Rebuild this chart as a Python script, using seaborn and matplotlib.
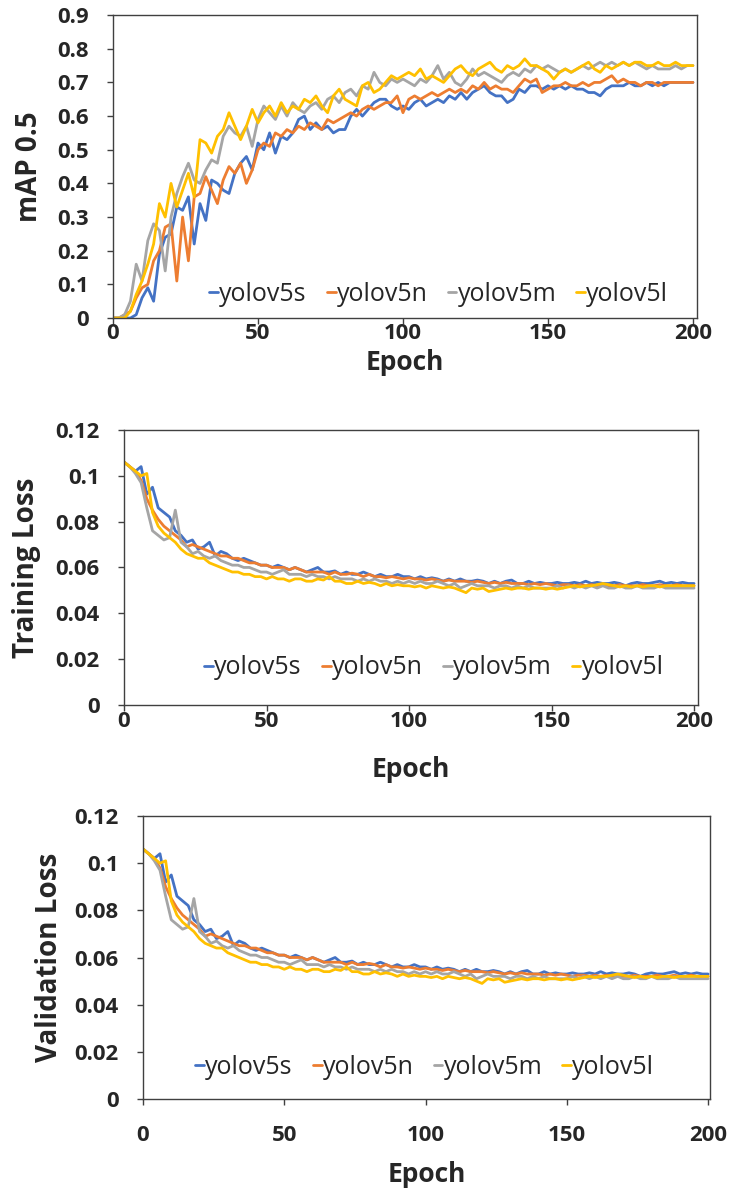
import numpy as np
import pandas as pd
import matplotlib
matplotlib.use('Agg')
import matplotlib.pyplot as plt
import seaborn as sns
from matplotlib.ticker import FuncFormatter

# epochs sampled every 2 epochs
epochs = list(range(0, 201, 2))
models = ['yolov5s', 'yolov5n', 'yolov5m', 'yolov5l']
colors = ['#4472C4', '#ED7D31', '#A5A5A5', '#FFC000']

# mAP 0.5
map_s = [0.00, 0.00, 0.00, 0.00, 0.01, 0.06, 0.09, 0.05, 0.19, 0.24,
         0.25, 0.33, 0.32, 0.36, 0.22, 0.34, 0.29, 0.41, 0.40, 0.38,
         0.37, 0.43, 0.46, 0.48, 0.44, 0.52, 0.50, 0.55, 0.49, 0.54,
         0.53, 0.55, 0.59, 0.60, 0.56, 0.58, 0.56, 0.57, 0.55, 0.56,
         0.56, 0.60, 0.62, 0.60, 0.62, 0.64, 0.65, 0.65, 0.63, 0.62,
         0.63, 0.62, 0.64, 0.65, 0.63, 0.64, 0.65, 0.64, 0.66, 0.65,
         0.67, 0.65, 0.67, 0.68, 0.69, 0.67, 0.66, 0.66, 0.64, 0.65,
         0.68, 0.67, 0.69, 0.69, 0.68, 0.69, 0.68, 0.69, 0.68, 0.69,
         0.68, 0.68, 0.67, 0.67, 0.66, 0.68, 0.69, 0.69, 0.69, 0.70,
         0.69, 0.69, 0.70, 0.69, 0.70, 0.69, 0.70, 0.70, 0.70, 0.70,
         0.70]
map_n = [0.00, 0.00, 0.01, 0.02, 0.06, 0.09, 0.10, 0.17, 0.20, 0.27,
         0.28, 0.11, 0.30, 0.17, 0.36, 0.37, 0.42, 0.38, 0.34, 0.41,
         0.45, 0.43, 0.46, 0.40, 0.44, 0.50, 0.52, 0.51, 0.55, 0.54,
         0.56, 0.55, 0.57, 0.56, 0.58, 0.57, 0.56, 0.59, 0.58, 0.59,
         0.60, 0.61, 0.60, 0.62, 0.63, 0.62, 0.63, 0.64, 0.64, 0.66,
         0.61, 0.65, 0.66, 0.65, 0.66, 0.67, 0.66, 0.67, 0.68, 0.67,
         0.68, 0.67, 0.69, 0.68, 0.70, 0.68, 0.69, 0.68, 0.68, 0.67,
         0.69, 0.71, 0.70, 0.71, 0.67, 0.68, 0.69, 0.69, 0.70, 0.69,
         0.69, 0.70, 0.69, 0.70, 0.70, 0.71, 0.72, 0.70, 0.71, 0.70,
         0.70, 0.69, 0.70, 0.70, 0.69, 0.70, 0.70, 0.70, 0.70, 0.70,
         0.70]
map_m = [0.00, 0.00, 0.01, 0.05, 0.16, 0.11, 0.23, 0.28, 0.26, 0.14,
         0.30, 0.37, 0.42, 0.46, 0.41, 0.40, 0.44, 0.47, 0.46, 0.54,
         0.57, 0.55, 0.54, 0.57, 0.51, 0.59, 0.63, 0.61, 0.59, 0.63,
         0.60, 0.64, 0.62, 0.61, 0.63, 0.64, 0.62, 0.65, 0.66, 0.64,
         0.67, 0.68, 0.66, 0.69, 0.68, 0.73, 0.70, 0.69, 0.71, 0.70,
         0.71, 0.70, 0.69, 0.71, 0.70, 0.72, 0.75, 0.71, 0.73, 0.70,
         0.69, 0.71, 0.74, 0.72, 0.73, 0.72, 0.71, 0.70, 0.72, 0.73,
         0.72, 0.74, 0.73, 0.75, 0.74, 0.75, 0.74, 0.73, 0.74, 0.73,
         0.74, 0.75, 0.74, 0.75, 0.76, 0.75, 0.76, 0.75, 0.76, 0.75,
         0.76, 0.75, 0.74, 0.75, 0.74, 0.74, 0.74, 0.75, 0.74, 0.75,
         0.75]
map_l = [0.00, 0.00, 0.00, 0.02, 0.07, 0.11, 0.16, 0.22, 0.34, 0.30,
         0.40, 0.33, 0.38, 0.43, 0.36, 0.53, 0.52, 0.49, 0.54, 0.56,
         0.61, 0.57, 0.53, 0.57, 0.62, 0.58, 0.61, 0.63, 0.60, 0.64,
         0.61, 0.63, 0.62, 0.65, 0.64, 0.66, 0.63, 0.61, 0.66, 0.68,
         0.65, 0.64, 0.63, 0.69, 0.70, 0.67, 0.68, 0.70, 0.72, 0.71,
         0.72, 0.73, 0.72, 0.74, 0.71, 0.72, 0.71, 0.70, 0.72, 0.74,
         0.75, 0.73, 0.72, 0.74, 0.75, 0.76, 0.74, 0.73, 0.75, 0.74,
         0.75, 0.77, 0.75, 0.75, 0.74, 0.73, 0.71, 0.73, 0.74, 0.73,
         0.74, 0.75, 0.76, 0.74, 0.73, 0.75, 0.74, 0.75, 0.76, 0.75,
         0.76, 0.76, 0.75, 0.75, 0.76, 0.75, 0.75, 0.76, 0.75, 0.75,
         0.75]

# training loss
loss_s = [0.106, 0.104, 0.102, 0.104, 0.092, 0.095, 0.086, 0.084, 0.082, 0.076,
          0.074, 0.071, 0.072, 0.068, 0.069, 0.071, 0.065, 0.067, 0.066, 0.064,
          0.063, 0.064, 0.063, 0.062, 0.061, 0.061, 0.060, 0.061, 0.060, 0.059,
          0.060, 0.059, 0.058, 0.059, 0.060, 0.058, 0.058, 0.0585, 0.057, 0.058,
          0.057, 0.057, 0.058, 0.057, 0.056, 0.057, 0.056, 0.056, 0.057, 0.056,
          0.056, 0.055, 0.056, 0.055, 0.0555, 0.055, 0.054, 0.055, 0.054, 0.055,
          0.054, 0.054, 0.0545, 0.054, 0.053, 0.054, 0.053, 0.054, 0.0545, 0.053,
          0.053, 0.054, 0.053, 0.0535, 0.053, 0.053, 0.0535, 0.053, 0.053, 0.0535,
          0.053, 0.054, 0.053, 0.0535, 0.053, 0.053, 0.0535, 0.053, 0.052, 0.053,
          0.0535, 0.053, 0.053, 0.0535, 0.054, 0.053, 0.0535, 0.053, 0.0535, 0.053,
          0.053]
loss_n = [0.106, 0.104, 0.102, 0.098, 0.090, 0.085, 0.081, 0.078, 0.076, 0.074,
          0.072, 0.069, 0.070, 0.069, 0.068, 0.067, 0.066, 0.065, 0.065, 0.064,
          0.064, 0.063, 0.062, 0.062, 0.061, 0.061, 0.060, 0.060, 0.060, 0.059,
          0.060, 0.059, 0.058, 0.058, 0.058, 0.058, 0.057, 0.058, 0.057, 0.057,
          0.0575, 0.057, 0.056, 0.057, 0.056, 0.056, 0.0555, 0.056, 0.0555, 0.055,
          0.0555, 0.055, 0.055, 0.0545, 0.055, 0.0545, 0.054, 0.0545, 0.054, 0.054,
          0.054, 0.0535, 0.054, 0.0535, 0.053, 0.0535, 0.053, 0.0535, 0.053, 0.053,
          0.053, 0.0525, 0.053, 0.0525, 0.053, 0.0525, 0.052, 0.0525, 0.0525, 0.052,
          0.0525, 0.052, 0.0525, 0.052, 0.0525, 0.052, 0.052, 0.0525, 0.052, 0.052,
          0.052, 0.0525, 0.052, 0.052, 0.0525, 0.052, 0.052, 0.0525, 0.052, 0.052,
          0.052]
loss_m = [0.106, 0.104, 0.101, 0.097, 0.086, 0.076, 0.074, 0.072, 0.073, 0.085,
          0.071, 0.069, 0.066, 0.067, 0.065, 0.064, 0.065, 0.063, 0.062, 0.061,
          0.061, 0.060, 0.060, 0.059, 0.058, 0.058, 0.057, 0.058, 0.059, 0.057,
          0.057, 0.057, 0.056, 0.057, 0.056, 0.056, 0.055, 0.056, 0.055, 0.055,
          0.055, 0.054, 0.055, 0.054, 0.055, 0.054, 0.054, 0.053, 0.054, 0.053,
          0.054, 0.053, 0.054, 0.053, 0.053, 0.054, 0.053, 0.052, 0.053, 0.051,
          0.052, 0.053, 0.052, 0.052, 0.052, 0.051, 0.052, 0.052, 0.051, 0.052,
          0.051, 0.052, 0.051, 0.051, 0.051, 0.051, 0.052, 0.051, 0.052, 0.051,
          0.052, 0.051, 0.052, 0.051, 0.052, 0.051, 0.051, 0.052, 0.051, 0.051,
          0.052, 0.051, 0.051, 0.051, 0.052, 0.051, 0.051, 0.051, 0.051, 0.051,
          0.051]
loss_l = [0.106, 0.104, 0.102, 0.100, 0.101, 0.084, 0.078, 0.075, 0.073, 0.071,
          0.068, 0.066, 0.065, 0.064, 0.064, 0.062, 0.061, 0.060, 0.059, 0.058,
          0.058, 0.057, 0.057, 0.056, 0.056, 0.055, 0.056, 0.055, 0.055, 0.054,
          0.055, 0.055, 0.054, 0.054, 0.055, 0.0545, 0.056, 0.054, 0.054, 0.053,
          0.053, 0.054, 0.053, 0.0535, 0.053, 0.052, 0.053, 0.052, 0.0525, 0.052,
          0.052, 0.0515, 0.052, 0.051, 0.052, 0.0515, 0.051, 0.0515, 0.051, 0.050,
          0.049, 0.051, 0.0505, 0.051, 0.0495, 0.050, 0.0505, 0.051, 0.0505, 0.051,
          0.051, 0.0505, 0.051, 0.051, 0.0505, 0.051, 0.0505, 0.051, 0.0515, 0.052,
          0.0515, 0.052, 0.052, 0.0525, 0.053, 0.0525, 0.052, 0.0515, 0.052, 0.0515,
          0.052, 0.0515, 0.052, 0.052, 0.0515, 0.052, 0.052, 0.052, 0.052, 0.052,
          0.052]

# validation loss curves are the same as the training ones in the figure
val_s, val_n, val_m, val_l = loss_s, loss_n, loss_m, loss_l


def long_df(series):
    frames = []
    for name, vals in zip(models, series):
        frames.append(pd.DataFrame({'Epoch': epochs, 'value': vals, 'model': name}))
    return pd.concat(frames, ignore_index=True)


sns.set_style('white')
plt.rcParams['font.family'] = ['Open Sans', 'DejaVu Sans']

fig = plt.figure(figsize=(7.32, 11.89), dpi=100)

panels = [
    # data, ylabel, ymax, ystep, rect, xmax, legend anchor, xtick pad, ylabel x, xlabel y
    ([map_s, map_n, map_m, map_l], 'mAP 0.5', 0.9, 0.1,
     [0.1544, 0.7325, 0.7978, 0.2548], 201.4, (0.558, 0.078), -0.5, -0.118, -0.102),
    ([loss_s, loss_n, loss_m, loss_l], 'Training Loss', 0.12, 0.02,
     [0.1694, 0.4071, 0.7842, 0.2313], 201.4, (0.54, 0.135), 0.0, -0.145, -0.185),
    ([val_s, val_n, val_m, val_l], 'Validation Loss', 0.12, 0.02,
     [0.1954, 0.0757, 0.7746, 0.2380], 200.7, (0.497, 0.113), 15.0, -0.139, -0.219),
]

for series, ylabel, ymax, ystep, rect, xmax, anchor, xpad, ylx, xly in panels:
    ax = fig.add_axes(rect)
    df = long_df(series)
    sns.lineplot(data=df, x='Epoch', y='value', hue='model', palette=colors,
                 linewidth=2.0, ax=ax)
    ax.set_xlim(0, xmax)
    ax.set_ylim(0, ymax)
    ax.set_xticks([0, 50, 100, 150, 200])
    ax.set_yticks(np.round(np.arange(0, ymax + ystep / 2, ystep), 3))
    ax.yaxis.set_major_formatter(FuncFormatter(lambda v, p: f'{v:g}'))
    ax.tick_params(axis='y', length=4.5, width=1, direction='out', pad=13,
                   labelsize=16, color='#404040', left=True)
    ax.tick_params(axis='x', length=4, width=1, direction='out', pad=xpad,
                   labelsize=16, color='#404040', bottom=True)
    for lab in ax.get_xticklabels() + ax.get_yticklabels():
        lab.set_fontweight('bold')
    for sp in ax.spines.values():
        sp.set_color('#404040')
        sp.set_linewidth(1.0)
    ax.set_xlabel('Epoch', fontsize=19, fontweight='bold', va='top')
    ax.xaxis.set_label_coords(0.5, xly)
    ax.set_ylabel(ylabel, fontsize=20, fontweight='bold')
    ax.yaxis.set_label_coords(ylx, 0.5)
    handles, labels = ax.get_legend_handles_labels()
    ax.legend(handles, labels, loc='center', bbox_to_anchor=anchor, ncol=4,
              frameon=False, fontsize=18, handlelength=0.35, handletextpad=0.05,
              columnspacing=0.8)

fig.savefig('out.png', dpi=100)
